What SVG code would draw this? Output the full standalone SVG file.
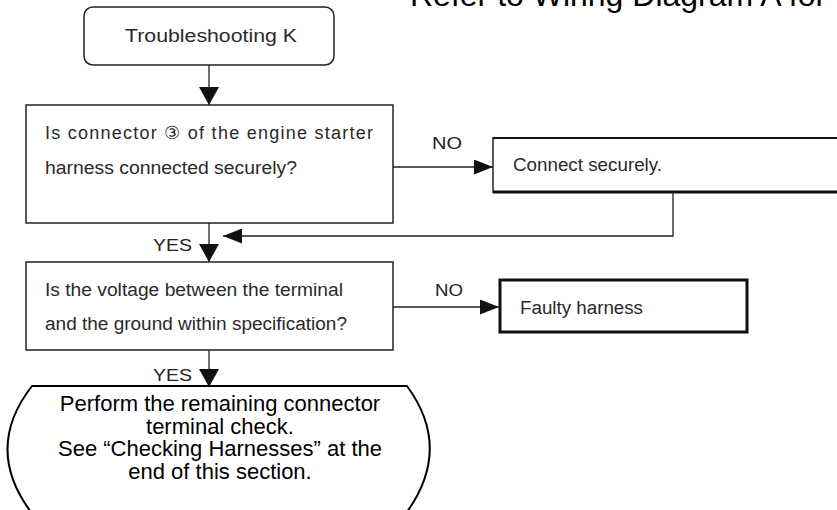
<svg xmlns="http://www.w3.org/2000/svg" width="837" height="510" viewBox="0 0 837 510">
<style>
.box{fill:#fff;stroke:#222;stroke-width:1.5}
.thick{fill:#fff;stroke:#111;stroke-width:3}
.t{font-family:"Liberation Sans",Arial,sans-serif;font-size:18px;fill:#2a2a2a}
.lbl{font-family:"Liberation Sans",Arial,sans-serif;font-size:17px;fill:#222}
.big{font-family:"Liberation Sans",Arial,sans-serif;font-size:22px;fill:#000}
.con{fill:none;stroke:#222;stroke-width:1.3}
</style>
<defs>
<marker id="aV" markerUnits="userSpaceOnUse" markerWidth="18" markerHeight="20" refX="18" refY="10" orient="auto"><path d="M0,0 L18,10 L0,20 z" fill="#111"/></marker>
<marker id="aH" markerUnits="userSpaceOnUse" markerWidth="19" markerHeight="15" refX="19" refY="7.5" orient="auto"><path d="M0,0 L19,7.5 L0,15 z" fill="#111"/></marker>
</defs>
<rect width="837" height="510" fill="#fff"/>
<text x="410" y="6" font-family="Liberation Sans,Arial,sans-serif" font-size="32" fill="#000">Refer to Wiring Diagram A for</text>

<g id="connectors">
<path class="con" d="M209,65 V105" marker-end="url(#aV)"/>
<path class="con" d="M393,167 H493" marker-end="url(#aH)"/>
<path class="con" d="M673,193 V236 H223" marker-end="url(#aH)"/>
<path class="con" d="M209,223 V262" marker-end="url(#aV)"/>
<path class="con" d="M393,307 H499" marker-end="url(#aH)"/>
<path class="con" d="M209,350 V387" marker-end="url(#aV)"/>
<text class="lbl" x="432" y="149" textLength="30" lengthAdjust="spacingAndGlyphs">NO</text>
<text class="lbl" x="153" y="251" textLength="39" lengthAdjust="spacingAndGlyphs">YES</text>
<text class="lbl" x="435" y="296" textLength="28" lengthAdjust="spacingAndGlyphs">NO</text>
<text class="lbl" x="153" y="381" textLength="39" lengthAdjust="spacingAndGlyphs">YES</text>
</g>

<g id="start">
<rect class="box" x="84" y="7" width="250" height="58" rx="9"/>
<text class="t" x="125" y="42" font-size="19" textLength="172" lengthAdjust="spacingAndGlyphs">Troubleshooting K</text>
</g>

<g id="q1">
<rect class="box" x="26" y="105" width="367" height="118"/>
<text class="t" x="45" y="139" textLength="328" lengthAdjust="spacing">Is connector ③ of the engine starter</text>
<text class="t" x="45" y="174" textLength="252" lengthAdjust="spacingAndGlyphs">harness connected securely?</text>
</g>

<g id="connect">
<path d="M845,138 H493 V193 H845" fill="#fff" stroke="none"/>
<path d="M845,138 H493" stroke="#111" stroke-width="2" fill="none"/>
<path d="M493,137 V193" stroke="#222" stroke-width="1.5" fill="none"/>
<path d="M493,192 H845" stroke="#111" stroke-width="3" fill="none"/>
<text class="t" x="513" y="171" textLength="149" lengthAdjust="spacingAndGlyphs">Connect securely.</text>
</g>

<g id="q2">
<rect class="box" x="26" y="262" width="367" height="88"/>
<text class="t" x="45" y="296" textLength="298" lengthAdjust="spacingAndGlyphs">Is the voltage between the terminal</text>
<text class="t" x="45" y="330" textLength="302" lengthAdjust="spacingAndGlyphs">and the ground within specification?</text>
</g>

<g id="faulty">
<rect class="thick" x="500" y="280" width="247" height="52"/>
<text class="t" x="520" y="314" textLength="123" lengthAdjust="spacingAndGlyphs">Faulty harness</text>
</g>

<g id="end">
<path d="M32,386 L407,386 Q454,450 404,516 L34,516 Q-18,450 32,386 z" fill="#fff" stroke="#000" stroke-width="2"/>
<text class="big" text-anchor="middle" x="220" y="411">Perform the remaining connector</text>
<text class="big" text-anchor="middle" x="220" y="433.5">terminal check.</text>
<text class="big" text-anchor="middle" x="220" y="456">See “Checking Harnesses” at the</text>
<text class="big" text-anchor="middle" x="220" y="478.5">end of this section.</text>
</g>
</svg>
